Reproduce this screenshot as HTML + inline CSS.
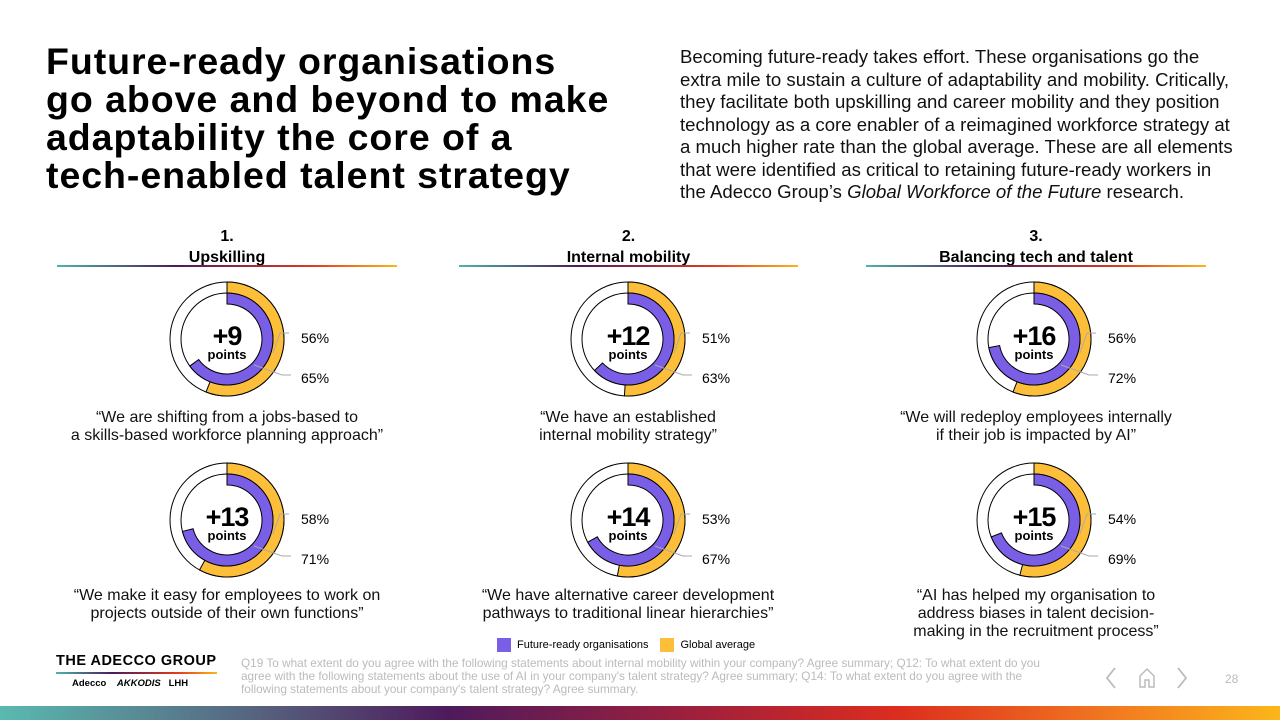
<!DOCTYPE html>
<html><head><meta charset="utf-8">
<style>
*{margin:0;padding:0;box-sizing:border-box}
body{width:1280px;height:720px;background:#fff;font-family:"Liberation Sans",sans-serif;color:#000;position:relative;overflow:hidden}
.abs{position:absolute}
h1{position:absolute;left:46px;top:42px;font-size:37.5px;line-height:38px;font-weight:bold;letter-spacing:0.95px}
.intro{left:680px;top:46px;width:560px;font-size:18.6px;line-height:22.5px;color:#111}
.sec{text-align:center;font-size:16px;font-weight:bold;line-height:21px}
.ul{height:2px;background:linear-gradient(90deg,#4fb3ad,#4b1a5c 35%,#e03a1f 75%,#fbb61a)}
.q{text-align:center;font-size:16px;line-height:18px;color:#111}
.foot{left:241px;top:657px;width:800px;font-size:11.8px;line-height:13px;color:#bbb}
</style></head><body>
<h1>Future-ready organisations<br>go above and beyond to make<br>adaptability the core of a<br>tech-enabled talent strategy</h1>
<div class="abs intro">Becoming future-ready takes effort. These organisations go the extra mile to sustain a culture of adaptability and mobility. Critically, they facilitate both upskilling and career mobility and they position technology as a core enabler of a reimagined workforce strategy at a much higher rate than the global average. These are all elements that were identified as critical to retaining future-ready workers in the Adecco Group’s <i>Global Workforce of the Future</i> research.</div>

<div class="abs sec" style="left:57px;top:226px;width:340px">1.<br>Upskilling</div>
<div class="abs ul" style="left:57px;top:265px;width:340px"></div>
<div class="abs sec" style="left:459px;top:226px;width:339px">2.<br>Internal mobility</div>
<div class="abs ul" style="left:459px;top:265px;width:339px"></div>
<div class="abs sec" style="left:866px;top:226px;width:340px">3.<br>Balancing tech and talent</div>
<div class="abs ul" style="left:866px;top:265px;width:340px"></div>

<div class="abs q" style="left:27px;top:409px;width:400px">“We are shifting from a jobs-based to<br>a skills-based workforce planning approach”</div>
<div class="abs q" style="left:428px;top:409px;width:400px">“We have an established<br>internal mobility strategy”</div>
<div class="abs q" style="left:836px;top:409px;width:400px">“We will redeploy employees internally<br>if their job is impacted by AI”</div>
<div class="abs q" style="left:27px;top:587px;width:400px">“We make it easy for employees to work on<br>projects outside of their own functions”</div>
<div class="abs q" style="left:428px;top:587px;width:400px">“We have alternative career development<br>pathways to traditional linear hierarchies”</div>
<div class="abs q" style="left:836px;top:587px;width:400px">“AI has helped my organisation to<br>address biases in talent decision-<br>making in the recruitment process”</div>

<svg class="abs" id="chart" style="left:0;top:0" width="1280" height="720"></svg>

<div class="abs" style="left:497px;top:638px;font-size:11px;display:flex;align-items:center">
<span style="display:inline-block;width:14px;height:14px;background:#7b5ee6;margin-right:6px"></span><span>Future-ready organisations</span>
<span style="display:inline-block;width:14px;height:14px;background:#fdbe3a;margin:0 6px 0 12px"></span><span>Global average</span></div>

<div class="abs" style="left:56px;top:653px;font-size:14.5px;font-weight:bold;letter-spacing:0.5px">THE ADECCO GROUP</div>
<div class="abs ul" style="left:56px;top:672px;width:161px"></div>
<div class="abs" style="left:72px;top:678px;font-size:9.5px;font-weight:bold">Adecco &nbsp;&nbsp; <i>AKKODIS</i> &nbsp; LHH</div>
<div class="abs foot">Q19 To what extent do you agree with the following statements about internal mobility within your company? Agree summary; Q12: To what extent do you agree with the following statements about the use of AI in your company's talent strategy? Agree summary; Q14: To what extent do you agree with the following statements about your company's talent strategy? Agree summary.</div>
<svg class="abs" style="left:1104px;top:666px" width="14" height="24"><path d="M11 2 L3 12 L11 22" fill="none" stroke="#bbb" stroke-width="1.8"/></svg>
<svg class="abs" style="left:1137px;top:667px" width="20" height="22"><path d="M3 9 L10 2 L17 9 V20 H12 V13 H8 V20 H3 Z" fill="none" stroke="#bbb" stroke-width="1.5"/></svg>
<svg class="abs" style="left:1175px;top:666px" width="14" height="24"><path d="M3 2 L11 12 L3 22" fill="none" stroke="#bbb" stroke-width="1.8"/></svg>
<div class="abs" style="left:1225px;top:672px;font-size:12px;color:#bbb">28</div>
<div class="abs" style="left:0;top:706px;width:1280px;height:14px;background:linear-gradient(90deg,#5ab9b0,#56637f 20%,#4e1a5c 35%,#a3203a 55%,#dc2d1e 70%,#f37e20 88%,#fbb61a)"></div>

<script>
const diffs=[9,12,16,13,14,15];
const globalAvg=[56,51,56,58,53,54];
const futureReady=[65,63,72,71,67,69];
const NS="http://www.w3.org/2000/svg";
const svg=document.getElementById('chart');
const cxs=[227,628,1034],cys=[339,520];
function mk(t,a){const e=document.createElementNS(NS,t);for(const k in a)e.setAttribute(k,a[k]);svg.appendChild(e);return e;}
function pt(cx,cy,r,pct){const a=pct/100*2*Math.PI;return [cx+r*Math.sin(a),cy-r*Math.cos(a)];}
function ring(cx,cy,r1,r2,pct,col){
  const p=Math.min(pct,99.99);const large=p>50?1:0;
  const [a,b]=pt(cx,cy,r2,0),[c,d]=pt(cx,cy,r2,p),[e,f]=pt(cx,cy,r1,p),[g,h]=pt(cx,cy,r1,0);
  return mk('path',{d:`M${a} ${b} A${r2} ${r2} 0 ${large} 1 ${c} ${d} L${e} ${f} A${r1} ${r1} 0 ${large} 0 ${g} ${h} Z`,fill:col,stroke:'#000','stroke-width':1});
}
diffs.forEach((v,i)=>{
  const cx=cxs[i%3],cy=cys[Math.floor(i/3)];
  let c=mk('circle',{cx,cy,r:57,fill:'#fff',stroke:'#000','stroke-width':1});
  
  c=mk('circle',{cx,cy,r:46,fill:'#fff',stroke:'#000','stroke-width':1});
  
  let g=ring(cx,cy,46,57,globalAvg[i],'#fdbe3a');
  
  let f=ring(cx,cy,35,46,futureReady[i],'#7b5ee6');
  
  const lx=cx+62,ly1=cy+4,ly2=cy+44;
  let l=mk('polyline',{points:`${cx+46},${cy+14} ${cx+53},${cy-6} ${lx},${cy-6}`,fill:'none',stroke:'#aaa','stroke-width':1});
  
  l=mk('polyline',{points:`${cx+27},${cy+26} ${cx+55},${ly2-8} ${lx+2},${ly2-8}`,fill:'none',stroke:'#aaa','stroke-width':1});
  
  let t=mk('text',{x:lx+12,y:ly1,'font-size':14,'font-family':'Liberation Sans'});t.textContent=globalAvg[i]+'%';
  
  t=mk('text',{x:lx+12,y:ly2,'font-size':14,'font-family':'Liberation Sans'});t.textContent=futureReady[i]+'%';
  
  t=mk('text',{x:cx,y:cy+6,'font-size':27,'font-weight':'bold','text-anchor':'middle','font-family':'Liberation Sans','letter-spacing':'-1'});t.textContent='+'+v;
  
  t=mk('text',{x:cx,y:cy+20,'font-size':13,'font-weight':'bold','text-anchor':'middle','font-family':'Liberation Sans'});t.textContent='points';
  
});
</script>
</body></html>
